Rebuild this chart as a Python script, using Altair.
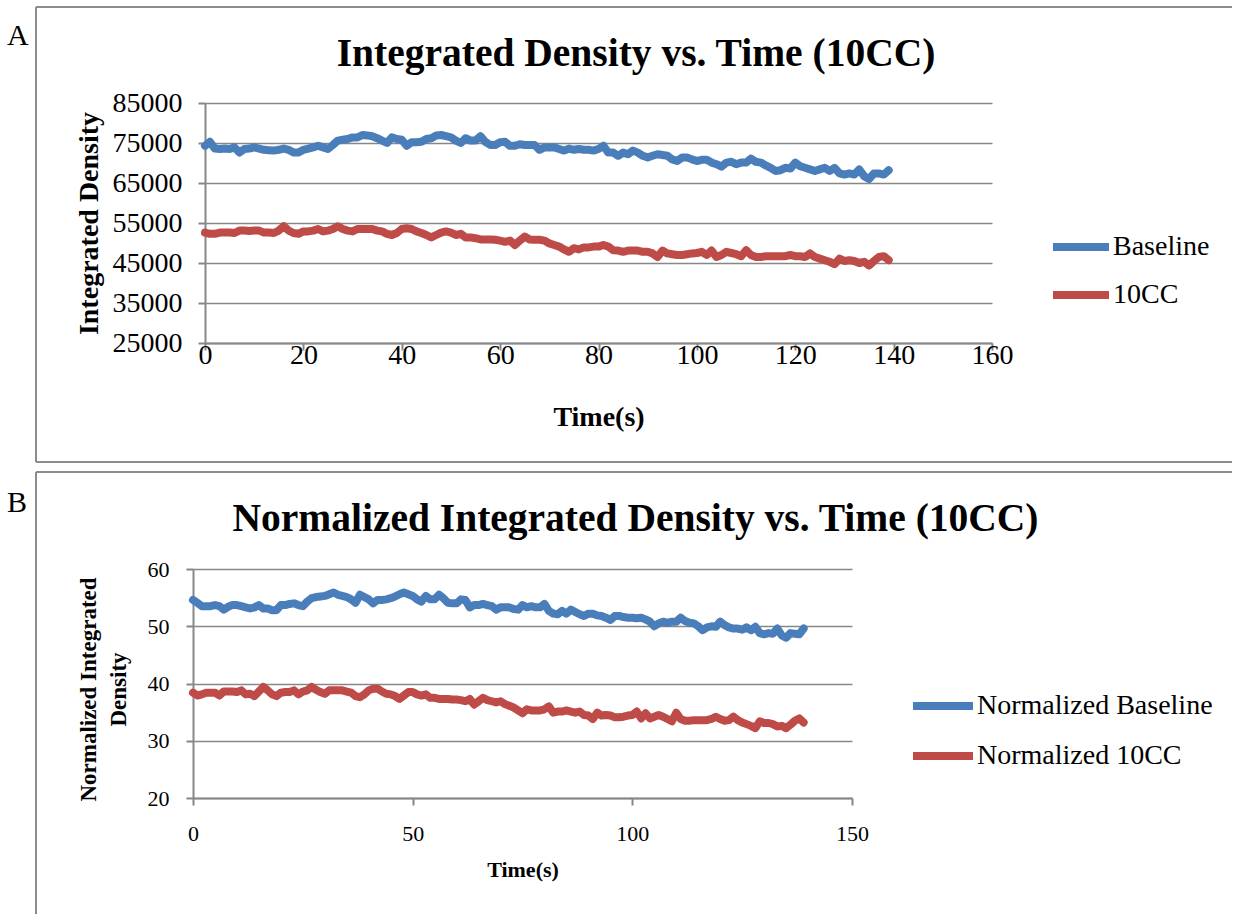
import altair as alt
import pandas as pd

# ---- data -------------------------------------------------------------
time_s = list(range(140))

baseline = [
    74300, 75300, 73600, 73500, 73600, 73500, 73900, 72600, 73500, 73600,
    73900, 73600, 73300, 73200, 73100, 73300, 73600, 73300, 72600, 72600,
    73300, 73600, 73900, 74300, 73900, 73500, 74500, 75600, 75800, 76000,
    76400, 76400, 77000, 76900, 76700, 76200, 75600, 75000, 76400, 76000,
    75800, 74300, 75200, 75200, 75300, 76000, 76200, 76900, 77000, 76700,
    76400, 75600, 75000, 76200, 75600, 75600, 76700, 75300, 74500, 74500,
    75200, 75300, 74300, 74300, 74700, 74500, 74500, 74500, 73300, 73900,
    73900, 73900, 73500, 73100, 73600, 73300, 73500,
    73300, 73300, 73100, 73500, 74300, 72600, 72600, 71800, 72600, 72200,
    73100, 72600, 71800, 71400, 71800, 72200, 72000, 71800, 70900, 70500,
    71400, 71400, 70900, 70500, 70800, 70800, 70100, 69700, 69100, 70100,
    70300, 69700, 70100, 70100, 71100, 70300, 70100, 69400, 68800, 68000,
    68200, 68800, 68600, 70100, 69200, 68800, 68400, 68000, 68400, 68800,
    68000, 68800, 67400, 67100, 67400, 67100, 68400, 66700, 66000, 67400,
    67400, 67100, 68200,
]

cc10 = [
    52600, 52300, 52300, 52600, 52600, 52600, 52500, 53100, 53100, 53000,
    53100, 53100, 52600, 52600, 52500, 53100, 54200, 53100, 52500, 52300,
    52900, 52900, 53100, 53500, 52900, 53100, 53500, 54200, 53500, 53100,
    52900, 53500, 53500, 53500, 53500, 53100, 52900, 52300, 52000, 52500,
    53500, 53700, 53500, 52900, 52500, 52000, 51400, 52000, 52600, 52900,
    52600, 52000, 52300, 51400, 51400, 51200, 50900, 50900, 50900, 50800,
    50600, 50300, 50600, 49500, 50600, 51600, 50900, 50800, 50800, 50600,
    49900, 49500, 49100, 48400, 47800, 48700, 48400,
    48900, 48900, 49100, 49100, 49500, 49100, 48200, 48100, 47800, 48100,
    48100, 48100, 47800, 47800, 47400, 46500, 48100, 47400, 47200, 47000,
    47000, 47200, 47400, 47500, 47800, 47000, 48100, 46500, 47000, 47800,
    47500, 47200, 46700, 48200, 47000, 46500, 46500, 46700, 46700, 46700,
    46700, 46700, 47000, 46700, 46700, 46500, 47400, 46500, 46100, 45700,
    45300, 44700, 46100, 45500, 45700, 45500, 45000, 45300, 44400, 45500,
    46500, 46700, 45700,
]

norm_baseline = [
    54.6, 54.1, 53.5, 53.5, 53.5, 53.7, 53.5, 52.9, 53.4, 53.7,
    53.7, 53.5, 53.3, 53.1, 53.3, 53.7, 53.1, 53.1, 52.8, 52.8,
    53.7, 53.7, 53.9, 54.0, 53.7, 53.5, 54.3, 54.9, 55.1, 55.2,
    55.3, 55.6, 55.9, 55.5, 55.3, 55.1, 54.7, 54.1, 55.5, 55.1,
    54.7, 54.0, 54.6, 54.6, 54.7, 54.9, 55.2, 55.6, 55.9, 55.6,
    55.3, 54.7, 54.3, 55.3, 54.7, 54.7, 55.5, 54.9, 54.1, 54.0,
    54.0, 54.7, 54.6, 53.3, 53.7, 53.7, 53.9, 53.7, 53.5, 52.9,
    53.3, 53.3, 53.3, 53.0, 52.9, 53.7, 53.3, 53.5, 53.3, 53.3,
    53.9, 52.7, 52.2, 52.1, 52.7, 52.2, 52.9, 52.5, 52.1, 51.8,
    52.2, 52.2, 51.9, 51.8, 51.5, 51.1, 51.8, 51.8, 51.6, 51.5,
    51.5, 51.4, 51.5, 51.2, 50.8, 50.0, 50.5, 50.8, 50.6, 50.8,
    50.8, 51.5, 50.9, 50.6, 50.5, 50.0, 49.3, 49.8, 50.0, 49.9,
    50.8, 50.2, 49.8, 49.6, 49.6, 49.4, 49.8, 49.3, 49.9, 48.8,
    48.6, 48.8, 48.7, 49.6, 48.4, 48.0, 48.8, 48.7, 48.6, 49.6,
]

norm_cc10 = [
    38.4, 37.9, 38.1, 38.4, 38.4, 38.4, 37.9, 38.6, 38.6, 38.6,
    38.5, 38.8, 38.1, 38.2, 37.8, 38.6, 39.4, 38.8, 38.1, 37.8,
    38.4, 38.5, 38.5, 38.8, 38.1, 38.6, 38.8, 39.4, 38.9, 38.5,
    38.2, 38.8, 38.8, 38.8, 38.8, 38.6, 38.4, 37.8, 37.6, 38.1,
    38.8, 39.1, 39.1, 38.6, 38.2, 38.1, 37.8, 37.3, 37.9, 38.5,
    38.5, 38.1, 37.9, 38.1, 37.5, 37.5, 37.3, 37.3, 37.3, 37.2,
    37.2, 37.1, 36.9, 37.3, 36.3, 36.9, 37.5, 37.1, 36.9, 36.7,
    36.9, 36.4, 36.1, 35.8, 35.3, 34.8, 35.5, 35.3, 35.3, 35.3,
    35.5, 36.0, 34.9, 35.1, 35.1, 35.3, 35.1, 34.9, 35.1, 34.5,
    34.4, 33.8, 34.9, 34.4, 34.5, 34.4, 34.1, 34.1, 34.2, 34.4,
    34.5, 35.1, 33.9, 34.8, 33.9, 34.2, 34.5, 34.2, 33.8, 33.4,
    34.9, 33.8, 33.5, 33.5, 33.6, 33.6, 33.6, 33.6, 33.8, 34.2,
    33.8, 33.5, 33.6, 34.2, 33.6, 33.2, 32.9, 32.6, 32.2, 33.4,
    33.1, 33.1, 32.9, 32.5, 32.6, 32.2, 32.8, 33.5, 33.9, 33.2,
]

series_a = ["Baseline", "10CC"]
series_b = ["Normalized Baseline", "Normalized 10CC"]

x_ticks_a = [0, 20, 40, 60, 80, 100, 120, 140, 160]
y_ticks_a = [25000, 35000, 45000, 55000, 65000, 75000, 85000]
x_ticks_b = [0, 50, 100, 150]
y_ticks_b = [20, 30, 40, 50, 60]

# ---- styling ------------------------------------------------------------
BLUE = "#4a7ebb"
RED = "#be4b48"
AXIS_GREY = "#878787"
BOX_GREY = "#8c8c8c"
FONT = "Liberation Serif"


def long_frame(names, first, second):
    return pd.DataFrame({
        "time": time_s + time_s,
        "value": first + second,
        "series": [names[0]] * len(first) + [names[1]] * len(second),
    })


def one_row():
    return pd.DataFrame({"k": [0]})


def frame_layers(letter, letter_y, top, bottom, with_bottom):
    """Panel letter plus the thin grey box around a panel (group-relative px)."""
    left, right, letter_x = -157, 1039, -186
    layers = [
        alt.Chart(pd.DataFrame({"label": [letter]})).mark_text(
            font=FONT, fontSize=30, color="black", align="left", baseline="alphabetic"
        ).encode(x=alt.value(letter_x), y=alt.value(letter_y), text="label:N"),
        alt.Chart(one_row()).mark_rule(color=BOX_GREY, strokeWidth=2).encode(
            x=alt.value(left), y=alt.value(top), y2=alt.value(bottom)),
        alt.Chart(one_row()).mark_rule(color=BOX_GREY, strokeWidth=2).encode(
            x=alt.value(left), x2=alt.value(right), y=alt.value(top)),
    ]
    if with_bottom:
        layers.append(
            alt.Chart(one_row()).mark_rule(color=BOX_GREY, strokeWidth=2).encode(
                x=alt.value(left), x2=alt.value(right), y=alt.value(bottom)))
    return layers


def line_layer(df, names, x_scale, x_vals, y_dom, y_vals, x_title, y_title,
               tick_font, xt_font, yt_font, x_title_pos, y_title_pos,
               x_label_pad, y_label_pad, y_offset, legend_pos, sym_len):
    return alt.Chart(df).mark_line(
        strokeWidth=8, strokeCap="round", strokeJoin="round"
    ).encode(
        x=alt.X("time:Q",
                scale=x_scale,
                axis=alt.Axis(values=x_vals, title=x_title, grid=False,
                              labelFont=FONT, labelFontSize=tick_font, labelColor="black",
                              labelPadding=x_label_pad, labelFlush=False, labelOverlap=False,
                              tickSize=7, tickWidth=2, tickColor=AXIS_GREY,
                              domainColor=AXIS_GREY, domainWidth=2,
                              titleFont=FONT, titleFontSize=xt_font, titleFontWeight="bold",
                              titleColor="black", titleAlign="center", titleBaseline="middle",
                              titleX=x_title_pos[0], titleY=x_title_pos[1])),
        y=alt.Y("value:Q",
                scale=alt.Scale(domain=y_dom, nice=False, zero=False),
                axis=alt.Axis(values=y_vals, format="d", title=y_title, grid=True,
                              gridColor=AXIS_GREY, gridWidth=1.5, offset=y_offset,
                              labelFont=FONT, labelFontSize=tick_font, labelColor="black",
                              labelPadding=y_label_pad, labelOverlap=False,
                              tickSize=7, tickWidth=2, tickColor=AXIS_GREY,
                              domainColor=AXIS_GREY, domainWidth=2,
                              titleFont=FONT, titleFontSize=yt_font, titleFontWeight="bold",
                              titleColor="black", titleAngle=270, titleAlign="center",
                              titleBaseline="middle", titleLineHeight=30,
                              titleX=y_title_pos[0], titleY=y_title_pos[1])),
        color=alt.Color("series:N",
                        scale=alt.Scale(domain=names, range=[BLUE, RED]),
                        legend=alt.Legend(title=None, orient="none",
                                          legendX=legend_pos[0], legendY=legend_pos[1],
                                          symbolType="stroke", symbolSize=sym_len * sym_len,
                                          symbolStrokeWidth=8, labelFont=FONT,
                                          labelFontSize=28, labelColor="black",
                                          labelLimit=400, labelOffset=0,
                                          rowPadding=0, padding=0)),
    )


# ---- panel A ------------------------------------------------------------
# The plot area of A starts 12 px right of panel B's, so its x range is inset.
df_a = long_frame(series_a, baseline, cc10)
lines_a = line_layer(
    df_a, series_a,
    alt.Scale(domain=[0, 160], range=[12, 799], nice=False, zero=False),
    x_ticks_a, [25000, 85000], y_ticks_a,
    "Time(s)", "Integrated Density",
    tick_font=28, xt_font=28, yt_font=28,
    x_title_pos=(405.5, 74), y_title_pos=(-116, 120),
    x_label_pad=-9, y_label_pad=16, y_offset=-12,
    legend_pos=(856, 112), sym_len=56,
)
panel_a = alt.layer(
    *frame_layers("A", -58.5, -96, 359, True), lines_a
).properties(
    width=799, height=240,
    title=alt.TitleParams("Integrated Density vs. Time (10CC)", font=FONT, fontSize=39.5,
                          fontWeight="bold", color="black", anchor="middle", frame="group",
                          offset=0, baseline="alphabetic", dx=43.5, dy=99),
)

# ---- panel B ------------------------------------------------------------
df_b = long_frame(series_b, norm_baseline, norm_cc10)
lines_b = line_layer(
    df_b, series_b,
    alt.Scale(domain=[0, 150], nice=False, zero=False),
    x_ticks_b, [20, 60], y_ticks_b,
    "Time(s)", ["Normalized Integrated", "Density"],
    tick_font=22, xt_font=22, yt_font=23,
    x_title_pos=(329.5, 71.5), y_title_pos=(-105, 120),
    x_label_pad=18, y_label_pad=17, y_offset=0,
    legend_pos=(716, 103), sym_len=60,
)
panel_b = alt.layer(
    *frame_layers("B", -57, -97, 345, False), lines_b
).properties(
    width=659, height=229,
    title=alt.TitleParams("Normalized Integrated Density vs. Time (10CC)", font=FONT,
                          fontSize=39.5, fontWeight="bold", color="black", anchor="middle",
                          frame="group", offset=0, baseline="alphabetic", dx=113, dy=99),
)

chart = alt.vconcat(panel_a, panel_b, spacing=8).resolve_scale(
    x="independent", y="independent", color="independent"
).configure_view(stroke=None).properties(
    padding={"left": 7, "top": 6, "right": 0, "bottom": 0},
    background="white",
)

chart.save("out.html", embed_options={"renderer": "svg", "actions": False})
